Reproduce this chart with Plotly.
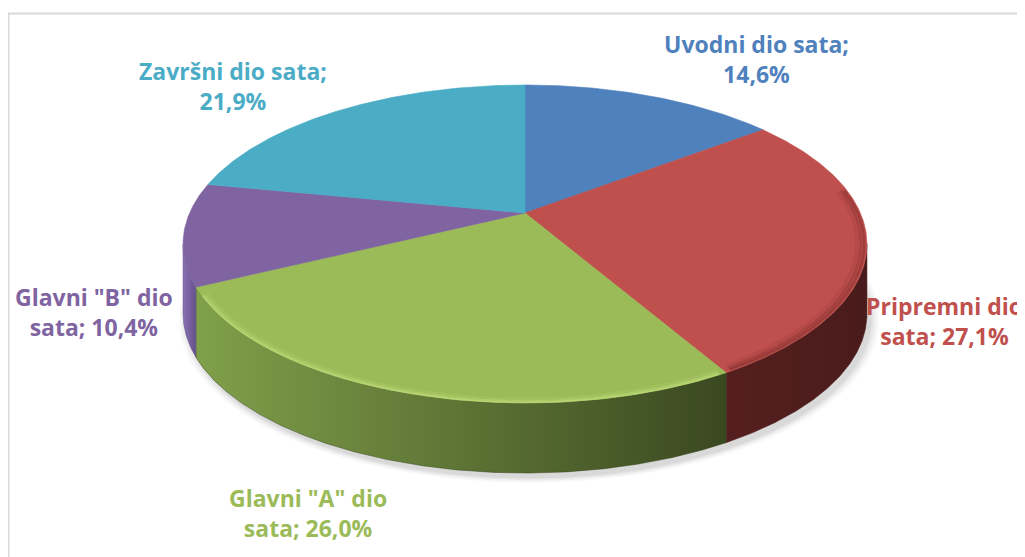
import numpy as np
import plotly.graph_objects as go

# ---------------- data ----------------
categories = ["Uvodni dio sata", "Pripremni dio sata", 'Glavni "A" dio sata',
              'Glavni "B" dio sata', "Završni dio sata"]
values = [14.6, 27.1, 26.0, 10.4, 21.9]

# ---------------- styles ----------------
top_colors = ["#4F81BD", "#C0504D", "#9BBB59", "#8064A2", "#4BACC6"]
side_colors = [("#3d6496", "#2f4f78"), ("#561f1f", "#4a1b1b"),
               ("#80a04a", "#3a4820"), ("#8a72b4", "#64508a"),
               ("#3a8ea6", "#2c7085")]
label_pos = [(756, 59), (944, 321), (308, 513), (94, 312), (233, 86)]

W, H = 1025, 557
OFF = 8                    # page body margin in the browser
CX, CY = 525, 213          # pie centre on screen
A, B, K = 335.4, 153.0, 0.195   # perspective ellipse parameters
DEPTH = 70


def rim(theta_deg, dy=0.0, grow=1.0, dx=0.0):
    t = np.radians(theta_deg)
    u, v = np.sin(t), np.cos(t)
    d = 1 + K * v
    return CX + grow * A * u / d + dx, CY - grow * B * v / d + dy


def wrap(text, width=17):
    words, lines, cur = text.split(" "), [], ""
    for w in words:
        if cur and len(cur) + 1 + len(w) > width:
            lines.append(cur)
            cur = w
        else:
            cur = (cur + " " + w) if cur else w
    lines.append(cur)
    return "<br>".join(lines)


fig = go.Figure()

total = sum(values)
bounds = np.concatenate([[0], np.cumsum(values) / total * 360.0])
theta_r = np.degrees(np.arccos(-K))
theta_l = 360 - theta_r

# soft shadow under the pie (offset down-right)
for g, op in [(1.025, 0.025), (1.017, 0.035), (1.009, 0.045), (1.002, 0.05)]:
    th = np.linspace(0, 360, 361)
    x, y = rim(th, dy=DEPTH + 5, grow=g, dx=4)
    fig.add_trace(go.Scatter(x=x, y=y, mode="lines", fill="toself",
                             fillcolor=f"rgba(0,0,0,{op})", line=dict(width=0),
                             hoverinfo="skip"))

# sides
for i in range(len(values)):
    s, e = bounds[i], bounds[i + 1]
    a, b = max(s, theta_r), min(e, theta_l)
    if a >= b:
        continue
    th = np.linspace(a, b, max(int((b - a) * 3), 4))
    xt, yt = rim(th)
    xb, yb = rim(th[::-1], dy=DEPTH)
    x = np.concatenate([xt, xb, xt[:1]])
    y = np.concatenate([yt, yb, yt[:1]])
    c1, c2 = side_colors[i]
    fig.add_trace(go.Scatter(
        x=x, y=y, mode="lines", fill="toself",
        fillgradient=dict(type="horizontal", colorscale=[[0, c1], [1, c2]],
                          start=float(x.min()), stop=float(x.max())),
        line=dict(width=0.5, color=c2), hoverinfo="skip"))

# top faces
for i in range(len(values)):
    s, e = bounds[i], bounds[i + 1]
    th = np.linspace(s, e, max(int((e - s) * 3), 4))
    xr, yr = rim(th)
    x = np.concatenate([[CX], xr, [CX]])
    y = np.concatenate([[CY], yr, [CY]])
    fig.add_trace(go.Scatter(x=x, y=y, mode="lines", fill="toself",
                             fillcolor=top_colors[i],
                             line=dict(width=0.6, color=top_colors[i]),
                             hoverinfo="skip"))

# soft bevel highlight along the front rim of the green slice
s, e = bounds[2], bounds[3]
for g, w, op in [(0.985, 5, 0.15), (0.992, 3, 0.3), (0.997, 1.5, 0.45)]:
    th = np.linspace(s + 1, e - 3, 200)
    xh, yh = rim(th, grow=g)
    fig.add_trace(go.Scatter(x=xh, y=yh, mode="lines",
                             line=dict(width=w, color=f"rgba(200,230,130,{op})"),
                             hoverinfo="skip"))
# dark bevel on the red slice (inside the rim)
s, e = bounds[1], bounds[2]
for g, w, op in [(0.975, 6, 0.10), (0.985, 4, 0.18), (0.993, 2.5, 0.28)]:
    th = np.linspace(theta_r - 20, e - 1, 200)
    xh, yh = rim(th, grow=g)
    fig.add_trace(go.Scatter(x=xh, y=yh, mode="lines",
                             line=dict(width=w, color=f"rgba(90,25,25,{op})"),
                             hoverinfo="skip"))

# labels
for i in range(len(values)):
    txt = wrap(f"{categories[i]}; {values[i]:.1f}%".replace(".", ","))
    fig.add_annotation(x=label_pos[i][0], y=label_pos[i][1], text=f"<b>{txt}</b>",
                       showarrow=False, xanchor="center", yanchor="middle",
                       font=dict(family="Open Sans, sans-serif", size=23,
                                 color=top_colors[i]))

fig.add_shape(type="rect", x0=8.5, y0=13.5, x1=W + 40, y1=H + 40,
              line=dict(color="#d9d9d9", width=2), layer="below")

fig.update_layout(
    width=W, height=H, margin=dict(l=0, r=0, t=0, b=0),
    paper_bgcolor="white", plot_bgcolor="white", showlegend=False,
    xaxis=dict(range=[OFF, W + OFF], visible=False, fixedrange=True),
    yaxis=dict(range=[H + OFF, OFF], visible=False, fixedrange=True),
)

fig.write_html("out.html")
